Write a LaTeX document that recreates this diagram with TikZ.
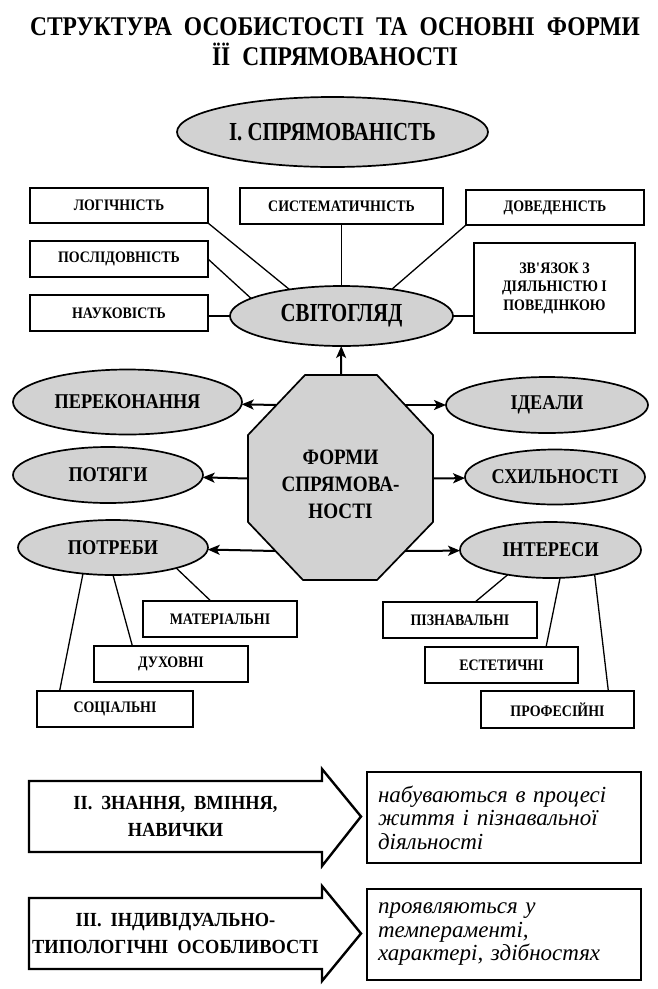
\documentclass[tikz,border=0pt]{standalone}
\usepackage{fontspec}
\setmainfont{Liberation Serif}
\newfontfamily\headfont[FakeStretch=0.87]{Liberation Serif}
\newfontfamily\bigfont[FakeStretch=0.8]{Liberation Serif}
\newfontfamily\midfont[FakeStretch=0.87]{Liberation Serif}
\newfontfamily\boxfont[FakeStretch=0.87]{Liberation Serif}
\newfontfamily\armfont[FakeStretch=0.92]{Liberation Serif}
\newcommand\widespaces[1]{\spaceskip=#1 plus 2pt minus 1pt\relax}
\usetikzlibrary{arrows.meta,shapes.geometric,calc}

\begin{document}
\begin{tikzpicture}[x=1pt, y=-1pt,
		heading/.style={inner sep=0pt, font=\headfont\bfseries\fontsize{27}{29}\selectfont\widespaces{12pt}},
		oval/.style={ellipse, draw, line width=1.7pt, fill=gray!35, inner sep=0pt, outer sep=0pt},
		bigoval/.style={oval, font=\bigfont\bfseries\fontsize{26}{28}\selectfont},
		midoval/.style={oval, font=\midfont\bfseries\fontsize{21}{23}\selectfont},
		tbox/.style={draw, line width=2.4pt, inner sep=0pt, outer sep=0pt, minimum height=36pt, align=center, font=\boxfont\bfseries\fontsize{16}{18.5}\selectfont},
		octa/.style={draw, line width=1.7pt, fill=gray!35, line join=miter},
		formtext/.style={inner sep=0pt, align=center, font=\midfont\bfseries\fontsize{22}{27}\selectfont},
		link/.style={draw, line width=1.3pt},
		arr/.style={draw, line width=2pt, -{Stealth[length=12pt, width=10pt, inset=3pt]}},
		bodytext/.style={inner sep=0pt, outer sep=0pt, minimum width=293pt, minimum height=71pt, align=center, font=\armfont\bfseries\fontsize{20}{26.5}\selectfont\widespaces{9pt}},
		block/.style={draw, line width=2.4pt, line join=miter},
		note/.style={draw, line width=2.4pt, inner xsep=11pt, inner ysep=0pt, outer sep=0pt, text width=252pt, minimum height=91pt, align=left, font=\itshape\fontsize{23}{23.5}\selectfont}]
		\useasboundingbox (0,0) rectangle (658,989);
		
		\node [heading, anchor=base] (title1) at (335,35) {СТРУКТУРА ОСОБИСТОСТІ ТА ОСНОВНІ ФОРМИ};
		\node [heading, anchor=base] (title2) at (335,65) {ЇЇ СПРЯМОВАНОСТІ};
		
		% світогляд
		\node [bigoval, minimum width=311pt, minimum height=70pt] (napr) at (332.5,132) {І. СПРЯМОВАНІСТЬ};
		\node [tbox, minimum width=178pt, minimum height=35pt] (log) at (119,205.5) {ЛОГІЧНІСТЬ};
		\node [tbox, minimum width=203pt] (sys) at (341.5,206) {СИСТЕМАТИЧНІСТЬ};
		\node [tbox, minimum width=178pt, minimum height=35pt] (dov) at (555,207.5) {ДОВЕДЕНІСТЬ};
		\node [tbox, minimum width=178pt] (posl) at (119,259) {ПОСЛІДОВНІСТЬ};
		\node [tbox, minimum width=178pt] (nauk) at (119,313) {НАУКОВІСТЬ};
		\node [tbox, minimum width=161pt, minimum height=90pt] (zv) at (554.5,288) {ЗВ\textquotesingle ЯЗОК З\\ДІЯЛЬНІСТЮ І\\ПОВЕДІНКОЮ};
		\node [bigoval, minimum width=223pt, minimum height=60pt] (svit) at (341.5,316) {СВІТОГЛЯД};
		\path (log.south east) edge[link] (svit.153)
			(sys) edge[link] (svit)
			(dov.south west) edge[link] (svit.28)
			(posl.east) edge[link] (svit.169)
			(svit.west) edge[link] (svit.west -| nauk.east)
			(svit.east) edge[link] (svit.east -| zv.west);
		
		% форми спрямованості
		\coordinate (o1) at (305,375);
		\coordinate (o2) at (377,375);
		\coordinate (o3) at (433,435);
		\coordinate (o4) at (433,522);
		\coordinate (o5) at (377,580);
		\coordinate (o6) at (303,580);
		\coordinate (o7) at (248,522);
		\coordinate (o8) at (248,435);
		\draw [octa] (o1) -- (o2) -- (o3) -- (o4) -- (o5) -- (o6) -- (o7) -- (o8) -- cycle;
		\node [formtext] (forms) at (340.5,484) {ФОРМИ\\СПРЯМОВА-\\НОСТІ};
		\coordinate (ftop) at ($(o1)!.5!(o2)$);
		\coordinate (fne) at ($(o2)!.5!(o3)$);
		\coordinate (fe) at ($(o3)!.5!(o4)$);
		\coordinate (fse) at ($(o4)!.5!(o5)$);
		\coordinate (fsw) at ($(o6)!.5!(o7)$);
		\coordinate (fw) at ($(o7)!.5!(o8)$);
		\coordinate (fnw) at ($(o8)!.5!(o1)$);
		
		\node [midoval, minimum width=229pt, minimum height=65pt] (pere) at (127.5,402) {ПЕРЕКОНАННЯ};
		\node [midoval, minimum width=190pt, minimum height=56pt] (potiah) at (108,475) {ПОТЯГИ};
		\node [midoval, minimum width=190pt, minimum height=55pt] (potr) at (113,547.5) {ПОТРЕБИ};
		\node [midoval, minimum width=202pt, minimum height=56pt] (ideal) at (547,405) {ІДЕАЛИ};
		\node [midoval, minimum width=180pt, minimum height=55pt] (schyl) at (555,477) {СХИЛЬНОСТІ};
		\node [midoval, minimum width=181pt, minimum height=56pt] (inter) at (550.5,550) {ІНТЕРЕСИ};
		\path (ftop) edge[arr] (svit)
			(fnw) edge[arr] (pere)
			(fw) edge[arr] (potiah)
			(fsw) edge[arr] (potr)
			(fne) edge[arr] (ideal)
			(fe) edge[arr] (schyl)
			(fse) edge[arr] (inter);
		
		\node [tbox, minimum width=154pt] (mat) at (220,619) {МАТЕРІАЛЬНІ};
		\node [tbox, minimum width=154pt] (duh) at (171,664) {ДУХОВНІ};
		\node [tbox, minimum width=156pt] (soc) at (115,709) {СОЦІАЛЬНІ};
		\node [tbox, minimum width=154pt] (pizn) at (460,620) {ПІЗНАВАЛЬНІ};
		\node [tbox, minimum width=153pt] (est) at (501.5,665) {ЕСТЕТИЧНІ};
		\node [tbox, minimum width=153pt, minimum height=37pt] (prof) at (557.5,709.5) {ПРОФЕСІЙНІ};
		\path (potr.342) edge[link] (mat.117)
			(potr.south) edge[link] (duh.155)
			(potr.221) edge[link] (soc.162)
			(inter.210) edge[link] (pizn.50)
			(inter.289) edge[link] (est.22)
			(inter.331) edge[link] (prof.20);
		
		% II, III
		\node [bodytext] (skills) at (175.5,816.5) {ІІ. ЗНАННЯ, ВМІННЯ,\\НАВИЧКИ};
		\draw [block] (skills.north west) -- (skills.north east) -- ([yshift=12pt]skills.north east)
			-- ([xshift=39pt]skills.east) -- ([yshift=-14pt]skills.south east) -- (skills.south east)
			-- (skills.south west) -- cycle;
		\node [note] (skillsnote) at (504,817.5) {набуваються в процесі\\життя і пізнавальної\\діяльності};
		
		\node [bodytext] (traits) at (175.5,933.5) {ІІІ. ІНДИВІДУАЛЬНО-\\ТИПОЛОГІЧНІ ОСОБЛИВОСТІ};
		\draw [block] (traits.north west) -- (traits.north east) -- ([yshift=12pt]traits.north east)
			-- ([xshift=39pt]traits.east) -- ([yshift=-12pt]traits.south east) -- (traits.south east)
			-- (traits.south west) -- cycle;
		\node [note] (traitsnote) at (504,934.5) {проявляються у\\темпераменті,\\характері, здібностях};
\end{tikzpicture}
\end{document}
